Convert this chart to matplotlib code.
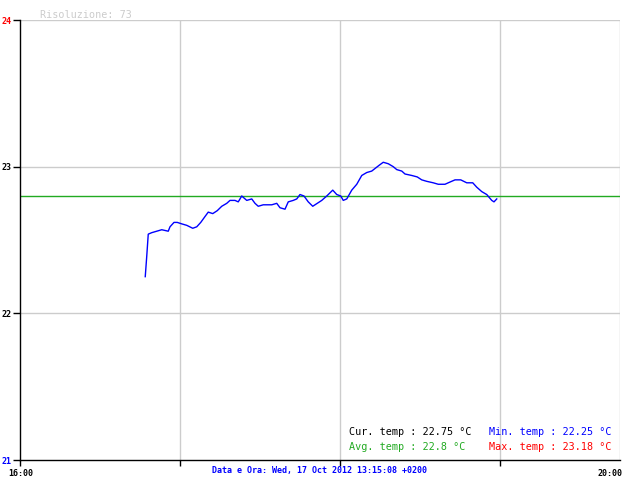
import matplotlib
matplotlib.use("Agg")
import matplotlib.pyplot as plt

# minutes after 16:00 and temperature (°C)
minutes = [50.1, 50.7, 51.3, 52.7, 54.7, 56.7, 59.3, 60.0, 61.6, 62.9,
           64.7, 66.7, 69.1, 70.7, 72.3, 74.0, 75.3, 77.1, 78.9, 80.7,
           82.7, 84.0, 86.0, 87.3, 88.7, 90.7, 92.7, 94.0, 95.3, 97.3,
           99.3, 100.7, 102.7, 104.0, 106.0, 107.3, 109.3, 110.7, 112.0, 113.6,
           115.3, 117.1, 118.9, 120.7, 122.7, 125.1, 126.7, 128.3, 129.3, 130.7,
           132.7, 134.7, 136.7, 138.7, 140.7, 143.7, 145.3, 147.3, 149.3, 150.7,
           152.7, 154.0, 156.7, 158.9, 160.7, 162.7, 165.3, 167.3, 170.0, 171.3,
           174.0, 176.3, 178.7, 181.1, 182.7, 184.7, 186.7, 188.7, 189.6, 190.7]
temps = [22.25, 22.39, 22.54, 22.55, 22.56, 22.57, 22.56, 22.59, 22.62, 22.62,
         22.61, 22.60, 22.58, 22.59, 22.62, 22.66, 22.69, 22.68, 22.70, 22.73,
         22.75, 22.77, 22.77, 22.76, 22.80, 22.77, 22.78, 22.75, 22.73, 22.74,
         22.74, 22.74, 22.75, 22.72, 22.71, 22.76, 22.77, 22.78, 22.81, 22.80,
         22.76, 22.73, 22.75, 22.77, 22.80, 22.84, 22.81, 22.80, 22.77, 22.78,
         22.84, 22.88, 22.94, 22.96, 22.97, 23.01, 23.03, 23.02, 23.00, 22.98,
         22.97, 22.95, 22.94, 22.93, 22.91, 22.90, 22.89, 22.88, 22.88, 22.89,
         22.91, 22.91, 22.89, 22.89, 22.86, 22.83, 22.81, 22.77, 22.76, 22.78]

avg_temp = 22.8
y_ticks = [21, 22, 23, 24]
y_tick_colors = ["blue", "black", "black", "red"]
x_grid = [64, 128, 192, 240]
x_labels = ["16:00", "20:00"]

mono = "DejaVu Sans Mono"

fig = plt.figure(figsize=(6.4, 4.8), dpi=100)
ax = fig.add_axes([20 / 640, 20 / 480, 600 / 640, 440 / 480])
ax.set_xlim(0, 240)
ax.set_ylim(21, 24)

# grid
for yv in y_ticks[1:]:
    ax.axhline(yv, color="#cccccc", lw=1, zorder=1)
for xv in x_grid:
    ax.axvline(xv, color="#cccccc", lw=1, zorder=1)

ax.axhline(avg_temp, color="#22aa22", lw=1, zorder=2)
ax.plot(minutes, temps, color="blue", lw=1.0, zorder=3)

for s in ["top", "right"]:
    ax.spines[s].set_visible(False)
ax.spines["left"].set_linewidth(1.0)
ax.spines["bottom"].set_linewidth(1.0)

ax.set_yticks(y_ticks)
ax.set_yticklabels([str(v) for v in y_ticks], fontsize=6, family=mono, weight="bold")
for lbl, c in zip(ax.get_yticklabels(), y_tick_colors):
    lbl.set_color(c)
ax.tick_params(axis="y", length=5, width=1, pad=1)
ax.set_xticks([0] + x_grid[:-1])
ax.set_xticklabels([])
ax.tick_params(axis="x", length=4, width=1)

fig.text(8 / 640, 1 - 473 / 480, x_labels[0], fontsize=6, family=mono,
         weight="bold", va="center", ha="left")
fig.text(622 / 640, 1 - 473 / 480, x_labels[1], fontsize=6, family=mono,
         weight="bold", va="center", ha="right")
fig.text(320 / 640, 1 - 471 / 480, "Data e Ora: Wed, 17 Oct 2012 13:15:08 +0200",
         fontsize=6, family=mono, weight="bold", color="blue", va="center", ha="center")

fig.text(40 / 640, 1 - 15 / 480, "Risoluzione: 73", fontsize=7.3, family=mono,
         color="#cccccc", va="center", ha="left")

fig.text(349 / 640, 1 - 432 / 480, "Cur. temp : 22.75 °C", fontsize=7.3,
         family=mono, color="black", va="center", ha="left")
fig.text(489 / 640, 1 - 432 / 480, "Min. temp : 22.25 °C", fontsize=7.3,
         family=mono, color="blue", va="center", ha="left")
fig.text(349 / 640, 1 - 447 / 480, "Avg. temp : 22.8 °C", fontsize=7.3,
         family=mono, color="#22aa22", va="center", ha="left")
fig.text(489 / 640, 1 - 447 / 480, "Max. temp : 23.18 °C", fontsize=7.3,
         family=mono, color="red", va="center", ha="left")

fig.savefig("out.png", dpi=100)
